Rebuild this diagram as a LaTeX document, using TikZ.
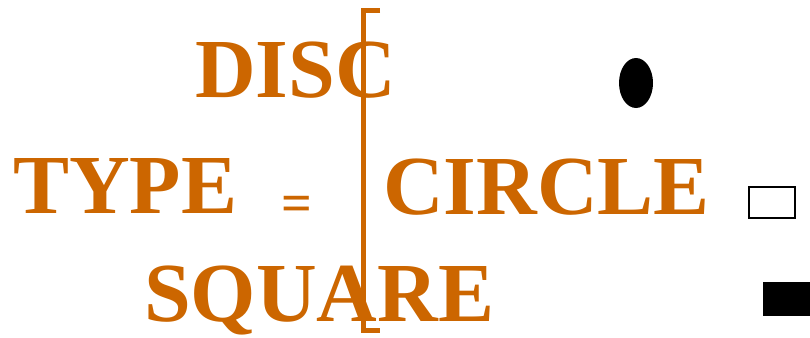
\documentclass[tikz,border=0pt]{standalone}
\usepackage{fontspec}
\setmainfont{Liberation Serif}
\definecolor{ochre}{RGB}{204,102,0}
\begin{document}
\begin{tikzpicture}[x=1pt,y=-1pt,
  word/.style={text=ochre,font=\fontsize{84}{84}\selectfont\bfseries,inner sep=0pt,anchor=base west},
  eqsign/.style={text=ochre,font=\fontsize{54}{54}\selectfont\bfseries,inner sep=0pt,anchor=base west},
  brack/.style={draw=ochre,line width=5pt},
  shapeoutline/.style={draw=black,line width=2pt}]
\useasboundingbox (0,0) rectangle (810,337);
\clip (0,0) rectangle (810,337);
\node[word] (disc) at (195,97) {DISC};
\node[word] (type) at (13,213) {TYPE};
\node[eqsign] (eq) at (281,221) {=};
\node[word] (circ) at (383,214) {CIRCLE};
\node[word] (squ) at (144,321) {SQUARE};
\coordinate (bt) at (380,11);
\coordinate (bb) at (380,330.5);
\draw[brack] (bt) -- (363.5,11) -- (363.5,330.5) -- (bb);
\fill[black] (636,83) ellipse [x radius=17, y radius=25];
\node[shapeoutline,minimum width=46pt,minimum height=31pt,inner sep=0pt] (sqopen) at (772,202.5) {};
\node[fill=black,minimum width=50pt,minimum height=34pt,inner sep=0pt] (sqfill) at (788,299) {};
\end{tikzpicture}
\end{document}
